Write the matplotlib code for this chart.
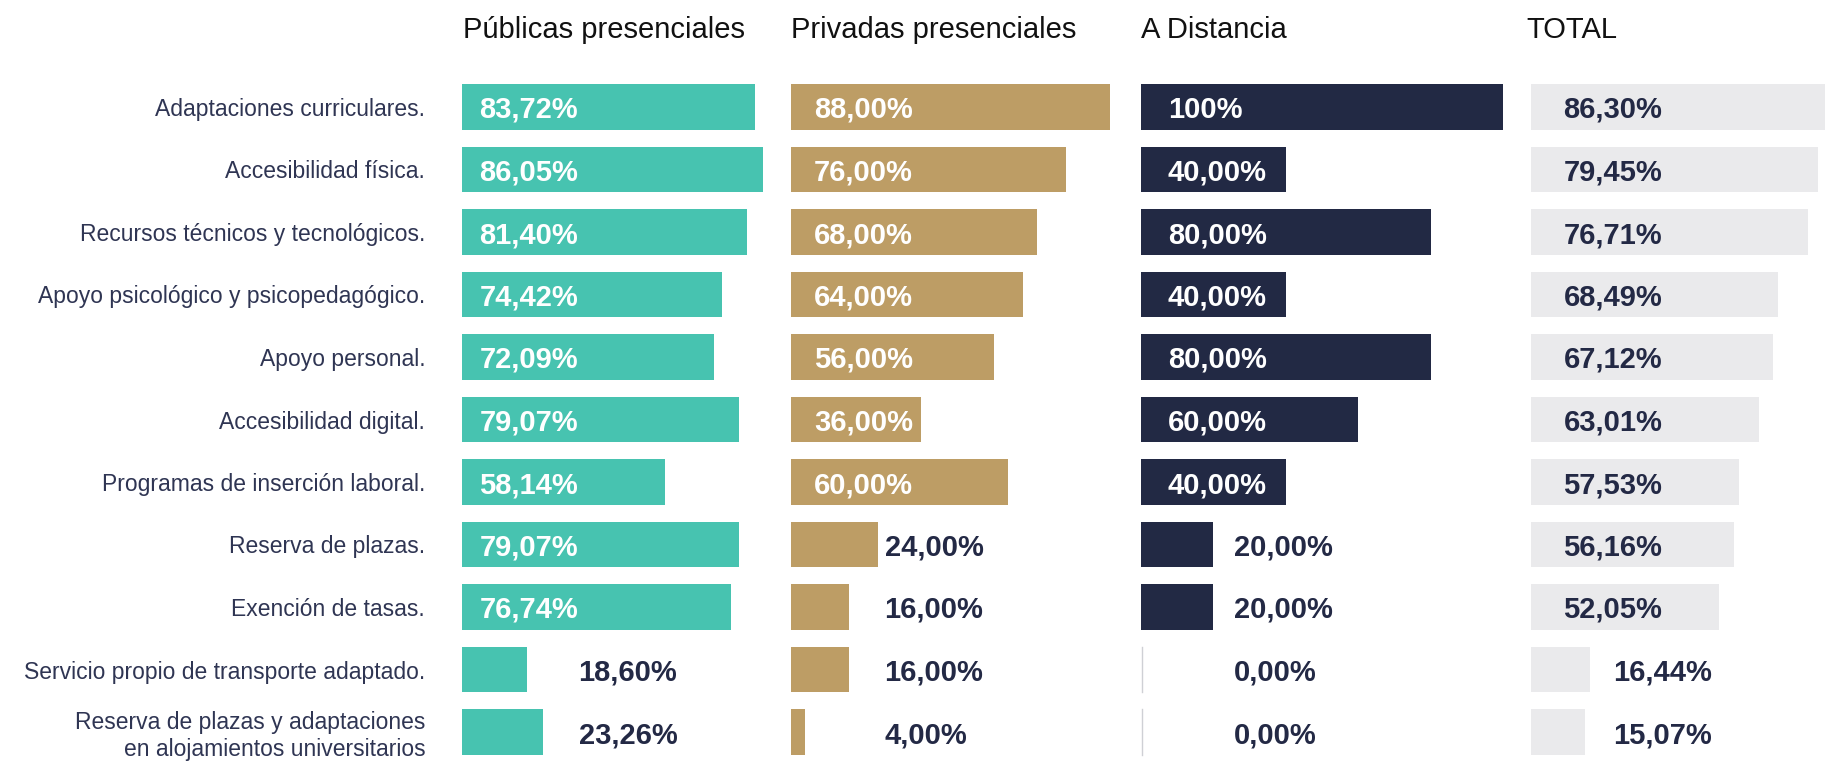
import matplotlib
matplotlib.use("Agg")
import matplotlib.pyplot as plt

plt.rcParams['font.family'] = ['Liberation Sans', 'DejaVu Sans']

categories = [
    "Adaptaciones curriculares.",
    "Accesibilidad física.",
    "Recursos técnicos y tecnológicos.",
    "Apoyo psicológico y psicopedagógico.",
    "Apoyo personal.",
    "Accesibilidad digital.",
    "Programas de inserción laboral.",
    "Reserva de plazas.",
    "Exención de tasas.",
    "Servicio propio de transporte adaptado.",
    "Reserva de plazas y adaptaciones\nen alojamientos universitarios",
]
series_names = ["Públicas presenciales", "Privadas presenciales", "A Distancia", "TOTAL"]
publicas = [83.72, 86.05, 81.40, 74.42, 72.09, 79.07, 58.14, 79.07, 76.74, 18.60, 23.26]
privadas = [88.00, 76.00, 68.00, 64.00, 56.00, 36.00, 60.00, 24.00, 16.00, 16.00, 4.00]
distancia = [100, 40.00, 80.00, 40.00, 80.00, 60.00, 40.00, 20.00, 20.00, 0.00, 0.00]
total = [86.30, 79.45, 76.71, 68.49, 67.12, 63.01, 57.53, 56.16, 52.05, 16.44, 15.07]

W, H = 1825, 761
fig = plt.figure(figsize=(W / 100, H / 100), dpi=100)

NAVY = "#232945"
colors = ["#47C3B0", "#BD9D65", "#222944", "#EAEAEC"]
inside_text = ["white", "white", "white", NAVY]

# layout (pixels)
row0, step = 107, 62.5
top_px = row0 - step / 2
bot_px = row0 + 10 * step + step / 2
panels = [
    # start px, px per %, inside label offset px, outside label x px, header x px
    (462, 3.5, 17.5, 578.5, 463),
    (791, 3.62, 23, 884.5, 791),
    (1141, 3.62, 27, 1234, 1141),
    (1530.5, 3.62, 33, 1613, 1526),
]
bar_h = 0.73
threshold = 30

def fmt(v):
    if v == 100:
        return "100%"
    return f"{v:.2f}".replace(".", ",") + "%"

data = [publicas, privadas, distancia, total]
ypos = list(range(len(categories)))

for i, (vals, (x0, sc, off_in, x_out, hx)) in enumerate(zip(data, panels)):
    ax = fig.add_axes([x0 / W, (H - bot_px) / H, 100 * sc / W, (bot_px - top_px) / H])
    ax.set_xlim(0, 100)
    ax.set_ylim(10.5, -0.5)
    ax.patch.set_alpha(0)
    for s in ax.spines.values():
        s.set_visible(False)
    ax.set_xticks([])
    if i == 0:
        ax.set_yticks(ypos)
        ax.set_yticklabels(categories, fontsize=16.5, color="#2F3553")
        ax.tick_params(axis="y", length=0, pad=26.5)
        for lab in ax.get_yticklabels():
            lab.set_multialignment("right")
            lab.set_linespacing(1.2)
    else:
        ax.set_yticks([])
    for y, v in zip(ypos, vals):
        if v > 0:
            ax.barh(y, v, height=bar_h, color=colors[i], clip_on=False)
        else:
            ax.plot([0.15, 0.15], [y - bar_h / 2, y + bar_h / 2], color="#CFD0D5", lw=1.0, clip_on=False)
        if v >= threshold:
            ax.text(off_in / sc, y, fmt(v), ha="left", va="center_baseline", fontsize=21,
                    fontweight="bold", color=inside_text[i])
        else:
            ax.text((x_out - x0) / sc, y, fmt(v), ha="left", va="center_baseline", fontsize=21,
                    fontweight="bold", color=NAVY)
    fig.text(hx / W, 1 - 30 / H, series_names[i], ha="left", va="center", fontsize=21, color="#111111")

fig.savefig("out.png", dpi=100)
